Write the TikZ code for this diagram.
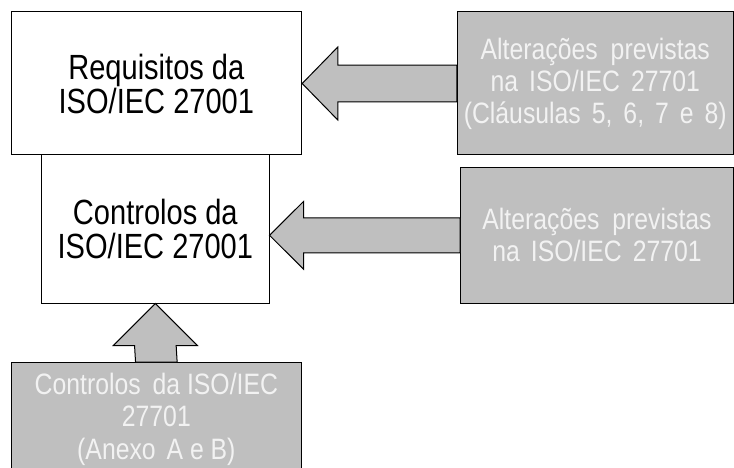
\documentclass[tikz,border=0pt]{standalone}
\usepackage{fontspec}
\setmainfont{Liberation Sans}
\newfontfamily\maincond[FakeStretch=0.83]{Liberation Sans}
\newfontfamily\graycond[FakeStretch=0.84]{Liberation Sans}
\usetikzlibrary{calc}
\definecolor{boxgray}{HTML}{BFBFBF}
\definecolor{txtgray}{HTML}{F2F2F2}
\newcommand{\widespaces}{\spaceskip=11pt plus 1pt\relax}
\tikzset{
  whitebox/.style={draw=black, line width=1pt, fill=white, inner sep=0pt, align=center,
    font=\maincond\fontsize{35}{34}\selectfont, text=black},
  graybox/.style={draw=black, line width=1pt, fill=boxgray, inner sep=0pt, align=center,
    font=\graycond\fontsize{29.5}{32}\selectfont\widespaces, text=txtgray},
  arrowshape/.style={draw=black, line width=1pt, fill=boxgray, line join=miter}
}
\begin{document}
\begin{tikzpicture}[x=1pt,y=-1pt]
\useasboundingbox (0,0) rectangle (734,468);
\clip (0,0) rectangle (734,468);
\fill[white] (0,0) rectangle (734,468);
% boxes
\node[whitebox, minimum width=290.7pt, minimum height=143pt] (req) at (156.35,83.5)
  {Requisitos da\\ISO/IEC 27001};
\node[whitebox, minimum width=227.3pt, minimum height=148pt] (ctrl) at (155.35,229)
  {Controlos da\\ISO/IEC 27001};
\node[graybox, minimum width=276pt, minimum height=143pt] (alt1) at (595.3,83.5)
  {Alterações\hspace{2pt} previstas\\na ISO/IEC 27701\\(Cláusulas 5, 6, 7 e 8)};
\node[graybox, minimum width=272.6pt, minimum height=136pt] (alt2) at (597,235.3)
  {Alterações\hspace{2pt} previstas\\na ISO/IEC 27701};
\node[graybox, minimum width=290.7pt, minimum height=113.3pt,
      font=\graycond\fontsize{29.5}{32.5}\selectfont] (bot) at (156.35,419.35)
  {Controlos\hspace{5pt} da ISO/IEC\\27701\\(Anexo\hspace{4pt} A e B)};
% arrows
\draw[arrowshape] (req.east) -- ($(req.east)+(35.6,-36.5)$) -- ($(req.east)+(35.6,-18.3)$)
  -- ($(alt1.west)+(0,-18.3)$) -- ($(alt1.west)+(0,18.3)$)
  -- ($(req.east)+(35.6,18.3)$) -- ($(req.east)+(35.6,36.5)$) -- cycle;
\coordinate (tip2) at (ctrl.east |- alt2.west);
\draw[arrowshape] (tip2) -- ($(tip2)+(34,-33.8)$) -- ($(tip2)+(34,-17.5)$)
  -- ($(alt2.west)+(0,-17.5)$) -- ($(alt2.west)+(0,17.5)$)
  -- ($(tip2)+(34,17.5)$) -- ($(tip2)+(34,33.8)$) -- cycle;
\coordinate (tip3) at (ctrl.south);
\draw[arrowshape] (tip3) -- ($(tip3)+(-42,42)$) -- ($(tip3)+(-20.8,42)$)
  -- ($(bot.north)+(-20.8,0)$) -- ($(bot.north)+(20.8,0)$)
  -- ($(tip3)+(20.8,42)$) -- ($(tip3)+(42,42)$) -- cycle;
\end{tikzpicture}
\end{document}
